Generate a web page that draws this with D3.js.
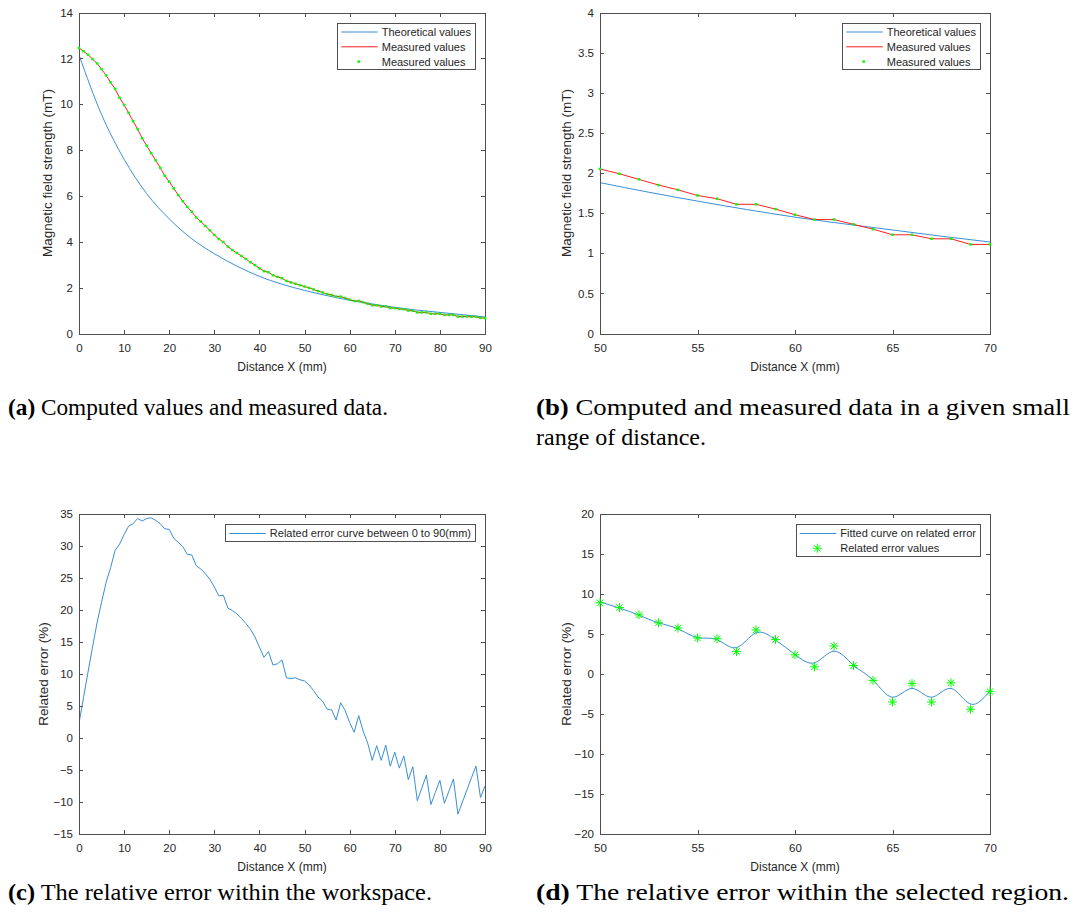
<!DOCTYPE html>
<html>
<head>
<meta charset="utf-8">
<script src="https://cdnjs.cloudflare.com/ajax/libs/d3/7.8.5/d3.min.js"></script>
<style>
    body { margin: 0; background: #fff; }
    svg text { font-family: "Liberation Sans", Arial, Helvetica, sans-serif; fill: #262626; }
</style>
</head>
<body>
<div id="figure"></div>
<script>

// ---- data ----
// distance axis (mm), one sample per mm
const distanceMm = d3.range(0, 91);
const theoryDistanceMm = [0, 5, 10, 15, 20, 25, 30, 35, 40, 45, 50, 55, 60, 65, 70, 75, 80, 85, 90];

const theoreticalMT = [12.15, 9.55, 7.6, 6.1, 5.0, 4.13, 3.48, 2.94, 2.49, 2.15, 1.88,
    1.65, 1.45, 1.29, 1.14, 1.02, 0.92, 0.82, 0.72];

const measuredMT = [
    12.45, 12.31, 12.16, 11.97, 11.78, 11.53, 11.26, 10.95, 10.67, 10.28,
    9.97, 9.62, 9.26, 8.91, 8.52, 8.19, 7.87, 7.55, 7.23, 6.88,
    6.62, 6.33, 6.04, 5.77, 5.52, 5.31, 5.06, 4.88, 4.69, 4.50,
    4.30, 4.12, 3.99, 3.79, 3.64, 3.51, 3.38, 3.25, 3.11, 2.98,
    2.84, 2.72, 2.67, 2.54, 2.47, 2.41, 2.29, 2.23, 2.17, 2.11,
    2.05, 1.99, 1.92, 1.85, 1.79, 1.72, 1.68, 1.61, 1.61, 1.55,
    1.48, 1.42, 1.42, 1.36, 1.30, 1.23, 1.23, 1.18, 1.18, 1.11,
    1.11, 1.07, 1.06, 1.00, 0.99, 0.92, 0.92, 0.92, 0.86, 0.86,
    0.86, 0.81, 0.81, 0.81, 0.74, 0.74, 0.74, 0.73, 0.73, 0.68,
    0.67
];

const relatedErrorPct = [
    2.3, 6.3, 10.3, 14.2, 18.0, 21.2, 24.3, 26.6, 29.3, 30.3,
    31.8, 33.1, 33.5, 34.3, 33.9, 34.3, 34.4, 34.0, 33.5, 32.7,
    32.6, 31.2, 30.6, 29.9, 28.7, 28.6, 26.9, 26.4, 25.7, 24.8,
    23.6, 22.2, 22.3, 20.3, 19.9, 19.4, 18.7, 17.9, 17.0, 15.8,
    14.2, 12.6, 13.5, 11.4, 11.6, 12.2, 9.4, 9.3, 9.4, 9.1,
    8.9, 8.3, 7.4, 6.4, 5.75, 4.5, 4.4, 2.8, 5.5, 4.3,
    2.4, 0.9, 3.5, 1.05, -0.8, -3.5, -1.2, -3.5, -1.1, -4.4,
    -2.2, -4.7, -2.8, -6.5, -4.5, -9.8, -7.8, -5.8, -10.4, -8.5,
    -6.6, -10.2, -8.3, -6.4, -11.9, -10.0, -8.1, -6.2, -4.4, -9.3,
    -7.5
];

// fitted curve in panel (d)
const fitDistanceMm = d3.range(50, 71);
const fittedErrorPct = [9.0, 8.25, 7.35, 6.4, 5.65, 4.55, 4.3, 3.3, 5.15, 4.25,
    2.45, 1.4, 2.85, 1.1, -0.75, -2.9, -1.8, -2.9, -1.8, -3.75, -2.1];

// ticks
const xTicksFull = [0, 10, 20, 30, 40, 50, 60, 70, 80, 90];
const xTicksZoom = [50, 55, 60, 65, 70];
const yTicksField = [0, 2, 4, 6, 8, 10, 12, 14];
const yTicksFieldZoom = [0, 0.5, 1, 1.5, 2, 2.5, 3, 3.5, 4];
const yTicksError = [-15, -10, -5, 0, 5, 10, 15, 20, 25, 30, 35];
const yTicksErrorZoom = [-20, -15, -10, -5, 0, 5, 10, 15, 20];

const legendField = ["Theoretical values", "Measured values", "Measured values"];
const legendErrorFull = ["Related error curve between 0 to 90(mm)"];
const legendErrorZoom = ["Fitted curve on related error", "Related error values"];

const captionLines = [
    {tag: "(a)", text: " Computed values and measured data.", x: 8, y: 415, w: 380},
    {tag: "(b)", text: " Computed and measured data in a given small", x: 536, y: 415, w: 534},
    {tag: "", text: "range of distance.", x: 536, y: 445, w: 170},
    {tag: "(c)", text: " The relative error within the workspace.", x: 8, y: 900, w: 424},
    {tag: "(d)", text: " The relative error within the selected region.", x: 536, y: 900, w: 533}
];

const BLUE = "#3a8ed4";
const RED = "#ff2020";
const GREEN = "#00ff00";

const svg = d3.select("#figure").append("svg")
    .attr("width", 1075)
    .attr("height", 920);

svg.append("rect").attr("width", 1075).attr("height", 920).attr("fill", "#fff");

// MATLAB like asterisk (plus + cross)
const starSymbol = {
    draw(context, size) {
        let r = Math.sqrt(size) / 2;
        let d = r * 0.72;
        context.moveTo(-r, 0); context.lineTo(r, 0);
        context.moveTo(0, -r); context.lineTo(0, r);
        context.moveTo(-d, -d); context.lineTo(d, d);
        context.moveTo(-d, d); context.lineTo(d, -d);
    }
};

class plotPanel {

    constructor(opts) {
        this.opts = opts;
        this.initVis();
    }

    initVis() {
        let vis = this;
        let o = vis.opts;

        vis.width = o.right - o.left;
        vis.height = o.bottom - o.top;

        vis.g = svg.append("g")
            .attr("transform", `translate(${o.left}, ${o.top})`);

        vis.x = d3.scaleLinear().domain(o.xDomain).range([0, vis.width]);
        vis.y = d3.scaleLinear().domain(o.yDomain).range([vis.height, 0]);

        vis.g.append("clipPath")
            .attr("id", "clip-" + o.id)
            .append("rect")
            .attr("width", vis.width)
            .attr("height", vis.height);

        vis.plot = vis.g.append("g").attr("clip-path", `url(#clip-${o.id})`);

        // axes, ticks pointing inward on all four sides
        let fmt = d3.format("");
        let axes = [
            {axis: d3.axisBottom(vis.x).tickValues(o.xTicks).tickFormat(fmt).tickPadding(10), t: `translate(0, ${vis.height})`},
            {axis: d3.axisTop(vis.x).tickValues(o.xTicks).tickFormat(() => ""), t: "translate(0, 0)"},
            {axis: d3.axisLeft(vis.y).tickValues(o.yTicks).tickFormat(fmt).tickPadding(6), t: "translate(0, 0)"},
            {axis: d3.axisRight(vis.y).tickValues(o.yTicks).tickFormat(() => ""), t: `translate(${vis.width}, 0)`}
        ];
        axes.forEach(a => {
            let ag = vis.g.append("g")
                .attr("transform", a.t)
                .call(a.axis.tickSizeInner(-4).tickSizeOuter(0));
            ag.selectAll("path, line")
                .attr("stroke", "#505050")
                .attr("shape-rendering", "crispEdges");
            ag.selectAll("text")
                .attr("font-size", 11.5)
                .attr("fill", "#262626");
            ag.attr("font-family", null).attr("font-size", null);
        });

        // axis titles
        vis.g.append("text")
            .attr("x", vis.width / 2)
            .attr("y", vis.height + 37)
            .attr("text-anchor", "middle")
            .attr("font-size", 12)
            .text("Distance X (mm)");

        vis.g.append("text")
            .attr("transform", `translate(${-o.yLabelGap}, ${vis.height / 2}) rotate(-90)`)
            .attr("text-anchor", "middle")
            .attr("font-size", 13.5)
            .text(o.yLabel);

        vis.drawSeries();
        vis.drawLegend();
    }

    drawSeries() {
        let vis = this;
        let o = vis.opts;

        o.series.forEach(s => {
            let pts = s.xs.map((d, i) => [d, s.ys[i]]);
            if (s.kind === "line") {
                let line = d3.line()
                    .x(d => vis.x(d[0]))
                    .y(d => vis.y(d[1]))
                    .curve(s.curve || d3.curveLinear);
                vis.plot.append("path")
                    .datum(pts)
                    .attr("fill", "none")
                    .attr("stroke", s.color)
                    .attr("stroke-width", 1)
                    .attr("d", line);
            } else if (s.kind === "dots") {
                pts = pts.filter(d => d[0] >= o.xDomain[0] && d[0] <= o.xDomain[1]);
                vis.g.selectAll(null)
                    .data(pts)
                    .enter().append("rect")
                    .attr("x", d => vis.x(d[0]) - 1.25)
                    .attr("y", d => vis.y(d[1]) - 1.25)
                    .attr("width", 2.5)
                    .attr("height", 2.5)
                    .attr("fill", s.color);
            } else if (s.kind === "stars") {
                pts = pts.filter(d => d[0] >= o.xDomain[0] && d[0] <= o.xDomain[1]);
                vis.g.selectAll(null)
                    .data(pts)
                    .enter().append("path")
                    .attr("transform", d => `translate(${vis.x(d[0])}, ${vis.y(d[1])})`)
                    .attr("d", d3.symbol().type(starSymbol).size(81))
                    .attr("fill", "none")
                    .attr("stroke", s.color)
                    .attr("stroke-width", 1);
            }
        });
    }

    drawLegend() {
        let vis = this;
        let o = vis.opts;

        let lg = vis.g.append("g");
        let box = lg.append("rect")
            .attr("fill", "#fff")
            .attr("stroke", "#505050")
            .attr("shape-rendering", "crispEdges");

        let maxW = 0;
        o.legend.forEach((label, i) => {
            let row = lg.append("g").attr("transform", `translate(0, ${9 + i * 14.8})`);
            let s = o.legendStyle[i];
            if (s.kind === "line") {
                row.append("line")
                    .attr("x1", 3.5).attr("x2", 40)
                    .attr("stroke", s.color)
                    .attr("stroke-width", 1);
            } else if (s.kind === "dots") {
                row.append("rect")
                    .attr("x", 21 - 1.25).attr("y", -1.25)
                    .attr("width", 2.5).attr("height", 2.5)
                    .attr("fill", s.color);
            } else {
                row.append("path")
                    .attr("transform", "translate(21, 0)")
                    .attr("d", d3.symbol().type(starSymbol).size(81))
                    .attr("fill", "none")
                    .attr("stroke", s.color);
            }
            let t = row.append("text")
                .attr("x", 44)
                .attr("dy", "0.36em")
                .attr("font-size", 11)
                .text(label);
            maxW = Math.max(maxW, t.node().getComputedTextLength());
        });

        let bw = 44 + maxW + 4;
        let bh = o.legend.length * 14.8 + 2.5;
        box.attr("width", bw).attr("height", bh);
        lg.attr("transform", `translate(${vis.width - 10 - bw}, 10.5)`);
    }
}

new plotPanel({
    id: "a", left: 79, right: 485, top: 12.5, bottom: 333.5,
    xDomain: [0, 90], yDomain: [0, 14], xTicks: xTicksFull, yTicks: yTicksField,
    yLabel: "Magnetic field strength (mT)", yLabelGap: 27,
    series: [
        {kind: "line", xs: theoryDistanceMm, ys: theoreticalMT, color: BLUE, curve: d3.curveMonotoneX},
        {kind: "line", xs: distanceMm, ys: measuredMT, color: RED},
        {kind: "dots", xs: distanceMm, ys: measuredMT, color: GREEN}
    ],
    legend: legendField,
    legendStyle: [{kind: "line", color: BLUE}, {kind: "line", color: RED}, {kind: "dots", color: GREEN}]
});

new plotPanel({
    id: "b", left: 600, right: 990, top: 12.5, bottom: 333.5,
    xDomain: [50, 70], yDomain: [0, 4], xTicks: xTicksZoom, yTicks: yTicksFieldZoom,
    yLabel: "Magnetic field strength (mT)", yLabelGap: 29,
    series: [
        {kind: "line", xs: theoryDistanceMm, ys: theoreticalMT, color: BLUE, curve: d3.curveMonotoneX},
        {kind: "line", xs: distanceMm, ys: measuredMT, color: RED},
        {kind: "dots", xs: distanceMm, ys: measuredMT, color: GREEN}
    ],
    legend: legendField,
    legendStyle: [{kind: "line", color: BLUE}, {kind: "line", color: RED}, {kind: "dots", color: GREEN}]
});

new plotPanel({
    id: "c", left: 79, right: 485, top: 514, bottom: 834,
    xDomain: [0, 90], yDomain: [-15, 35], xTicks: xTicksFull, yTicks: yTicksError,
    yLabel: "Related error (%)", yLabelGap: 31,
    series: [
        {kind: "line", xs: distanceMm, ys: relatedErrorPct, color: BLUE}
    ],
    legend: legendErrorFull,
    legendStyle: [{kind: "line", color: BLUE}]
});

new plotPanel({
    id: "d", left: 600, right: 990, top: 514, bottom: 834,
    xDomain: [50, 70], yDomain: [-20, 20], xTicks: xTicksZoom, yTicks: yTicksErrorZoom,
    yLabel: "Related error (%)", yLabelGap: 29,
    series: [
        {kind: "line", xs: fitDistanceMm, ys: fittedErrorPct, color: BLUE, curve: d3.curveNatural},
        {kind: "stars", xs: distanceMm, ys: relatedErrorPct, color: GREEN}
    ],
    legend: legendErrorZoom,
    legendStyle: [{kind: "line", color: BLUE}, {kind: "stars", color: GREEN}]
});

// sub-figure captions
captionLines.forEach(c => {
    let t = svg.append("text")
        .attr("x", c.x)
        .attr("y", c.y)
        .attr("font-size", 23)
        .style("font-family", '"Liberation Serif", "Times New Roman", serif')
        .style("fill", "#000");
    if (c.tag) {
        t.append("tspan").attr("font-weight", "bold").text(c.tag);
    }
    t.append("tspan").text(c.text);
    t.attr("textLength", c.w).attr("lengthAdjust", "spacingAndGlyphs");
});

</script>
</body>
</html>
